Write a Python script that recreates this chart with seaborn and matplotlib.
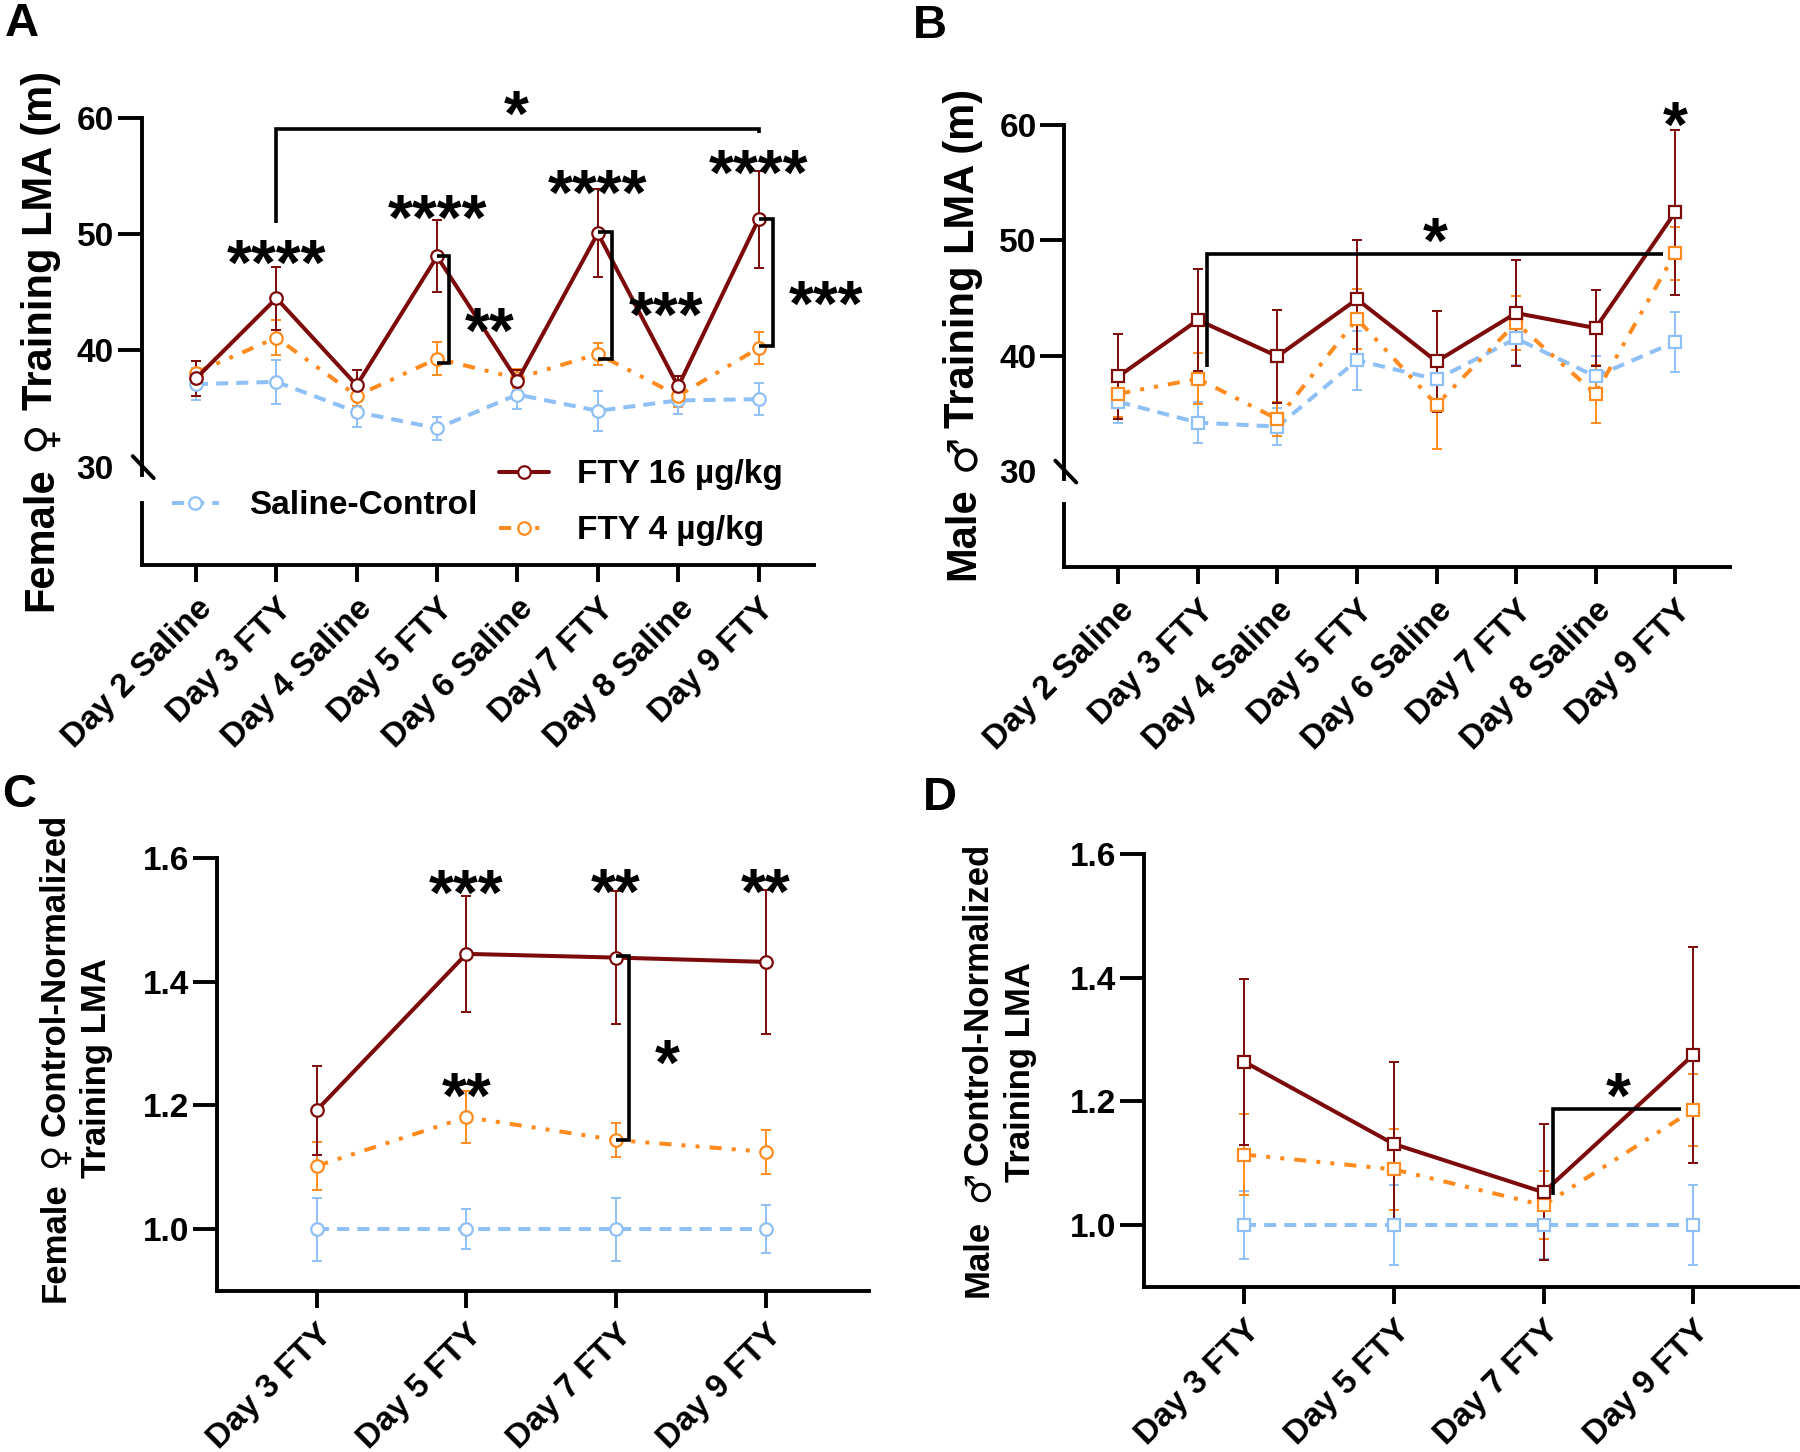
import numpy as np
import matplotlib
matplotlib.use("Agg")
import matplotlib.pyplot as plt
import matplotlib.transforms as mtransforms
from matplotlib.lines import Line2D
import seaborn as sns

# === Data (mean +/- SEM) ===
days_raw = ["Day 2 Saline", "Day 3 FTY", "Day 4 Saline", "Day 5 FTY",
            "Day 6 Saline", "Day 7 FTY", "Day 8 Saline", "Day 9 FTY"]
days_norm = ["Day 3 FTY", "Day 5 FTY", "Day 7 FTY", "Day 9 FTY"]

# A: female training LMA (m)
f_sal = [37.1, 37.3, 34.7, 33.3, 36.2, 34.8, 35.7, 35.8]
f_sal_err = [1.4, 1.9, 1.25, 1.0, 1.2, 1.7, 1.2, 1.4]
f_4 = [38.1, 41.1, 36.1, 39.3, 37.6, 39.7, 36.1, 40.2]
f_4_err = [1.0, 1.5, 0.9, 1.4, 0.8, 0.95, 1.0, 1.4]
f_16 = [37.6, 44.5, 37.0, 48.1, 37.4, 50.1, 36.9, 51.3]
f_16_err = [1.5, 2.7, 1.3, 3.1, 0.9, 3.8, 0.9, 4.2]

# B: male training LMA (m)
m_sal = [36.0, 34.2, 33.85, 39.6, 37.95, 41.5, 38.2, 41.2]
m_sal_err = [1.8, 1.8, 1.6, 2.55, 1.8, 2.3, 1.8, 2.6]
m_4 = [36.7, 38.0, 34.5, 43.2, 35.75, 42.85, 36.7, 48.9]
m_4_err = [2.0, 2.2, 1.5, 2.6, 3.85, 2.35, 2.5, 2.3]
m_16 = [38.2, 43.1, 39.95, 44.9, 39.5, 43.7, 42.4, 52.45]
m_16_err = [3.7, 4.4, 4.05, 5.1, 4.4, 4.6, 3.3, 7.15]

# C: female control-normalized
fc_sal = [1.0, 1.0, 1.0, 1.0]
fc_sal_err = [0.051, 0.032, 0.051, 0.039]
fc_4 = [1.102, 1.181, 1.144, 1.125]
fc_4_err = [0.039, 0.042, 0.028, 0.036]
fc_16 = [1.192, 1.445, 1.439, 1.432]
fc_16_err = [0.072, 0.094, 0.108, 0.117]

# D: male control-normalized
mc_sal = [1.0, 1.0, 1.0, 1.0]
mc_sal_err = [0.055, 0.064, 0.055, 0.064]
mc_4 = [1.114, 1.090, 1.032, 1.186]
mc_4_err = [0.065, 0.066, 0.055, 0.058]
mc_16 = [1.264, 1.131, 1.053, 1.275]
mc_16_err = [0.134, 0.132, 0.110, 0.174]

# === Style ===
sns.set_theme(style="ticks", rc={"axes.edgecolor": "black", "xtick.color": "black",
                                 "ytick.color": "black", "text.color": "black",
                                 "axes.labelcolor": "black"})
plt.rcParams['font.family'] = ['Liberation Sans', 'DejaVu Sans']
plt.rcParams['font.weight'] = 'bold'

RED = '#7d0a0a'
ORANGE = '#ff8b1f'
BLUE = '#8fc0f5'
SAL_LS = (0, (3, 2))
F4_LS = (0, (3, 2.5, 1, 2.5, 1, 2.5))
LW = 2.9
MS = 9

W, H = 1800, 1452
fig = plt.figure(figsize=(18, 14.52), dpi=100)


def add_ax(left, top, right, bottom):
    return fig.add_axes([left / W, 1 - bottom / H, (right - left) / W, (bottom - top) / H])


axA = add_ax(141.7, 118.3, 814, 565)
axB = add_ax(1064.3, 125.2, 1730, 567)
axC = add_ax(216.7, 858, 869.3, 1291)
axD = add_ax(1144.3, 853.7, 1798, 1287)


def draw_series(ax, y, err, color, ls, marker):
    x = np.arange(len(y))
    ax.errorbar(x, y, yerr=err, fmt='none', ecolor=color, elinewidth=1.4,
                capsize=3.5, capthick=1.4, zorder=2)
    sns.lineplot(x=x, y=y, ax=ax, color=color, linestyle=ls, linewidth=LW,
                 marker=marker, markersize=MS, markerfacecolor='white',
                 markeredgecolor=color, markeredgewidth=1.6,
                 errorbar=None, estimator=None, sort=False, zorder=3)


def style_axis(ax, labels):
    sns.despine(ax=ax)
    ax.grid(False)
    for s in ['left', 'bottom']:
        ax.spines[s].set_linewidth(2.8)
    ax.tick_params(axis='y', length=17, width=2.8, pad=3, labelsize=24)
    ax.tick_params(axis='x', length=12, width=2.8, pad=8, labelsize=24)
    ax.set_xticks(np.arange(len(labels)))
    ax.set_xticklabels(labels, rotation=45, ha='right', va='top',
                       rotation_mode='anchor')
    ax.set_xlabel('')
    ax.set_ylabel('')


def star(ax, x, yc, s, size=46):
    # place asterisks by their visual centre
    ax.annotate(s, (x, yc), xytext=(0, -0.56 * size), textcoords='offset points',
                ha='center', va='baseline', fontsize=size, fontweight='bold',
                annotation_clip=False)


def bracket(ax, xs, ys):
    ax.plot(xs, ys, color='black', lw=2.6, clip_on=False,
            solid_joinstyle='miter', solid_capstyle='butt', zorder=5)


def axis_break(ax, ylo, top_of_lower):
    trans = mtransforms.blended_transform_factory(ax.transAxes, ax.transData)
    ax.spines['left'].set_bounds(29.3, 60)
    w = ax.get_position().width * W
    ax.plot([-9 / w, 12 / w], [30.9, 29.0], color='black', lw=2.8,
            transform=trans, clip_on=False)
    ax.plot([0, 0], [ylo, top_of_lower], color='black', lw=2.8,
            transform=trans, clip_on=False, solid_capstyle='projecting')
    ax.yaxis.get_major_ticks()[0].tick1line.set_visible(False)


renderer = fig.canvas.get_renderer()


def vertical_label(x_base, y_center, parts, gaps, size):
    """Rotated label built from pieces so the sex symbol can come from DejaVu."""
    texts = []
    for s, fam in parts:
        t = fig.text(0, 0, s, rotation=90, rotation_mode='anchor', ha='left',
                     va='baseline', fontsize=size, family=fam,
                     transform=None)
        texts.append(t)
    lengths = [t.get_window_extent(renderer).height for t in texts]
    total = sum(lengths) + sum(gaps)
    y = (H - y_center) - total / 2
    for i, t in enumerate(texts):
        t.set_position((x_base, y))
        y += lengths[i] + (gaps[i] if i < len(gaps) else 0)


# === Panel A ===
draw_series(axA, f_sal, f_sal_err, BLUE, SAL_LS, 'o')
draw_series(axA, f_4, f_4_err, ORANGE, F4_LS, 'o')
draw_series(axA, f_16, f_16_err, RED, '-', 'o')
style_axis(axA, days_raw)
axA.set_xlim(-0.676, 7.69)
axA.set_ylim(21.52, 60)
axA.set_yticks([30, 40, 50, 60])
axis_break(axA, 21.52, 26.9)

bracket(axA, [1, 1, 7, 7], [50.95, 59.07, 59.07, 58.7])
star(axA, 3.98, 61.6, '*')
for xs, yc in zip([1, 3, 5, 7], [48.7, 52.6, 54.8, 56.5]):
    star(axA, xs, yc, '****')
bracket(axA, [3.0, 3.145, 3.145, 3.0], [48.1, 48.1, 38.95, 38.95])
bracket(axA, [5.0, 5.18, 5.18, 5.0], [50.2, 50.2, 39.3, 39.3])
bracket(axA, [7.0, 7.18, 7.18, 7.0], [51.3, 51.3, 40.35, 40.35])
star(axA, 3.66, 42.9, '**')
star(axA, 5.85, 44.25, '***')
star(axA, 7.84, 45.25, '***')

h_sal = Line2D([], [], color=BLUE, lw=LW, linestyle=SAL_LS, marker='o', ms=MS,
               mfc='white', mec=BLUE, mew=1.6)
h_4 = Line2D([], [], color=ORANGE, lw=LW, linestyle=F4_LS, marker='o', ms=MS,
             mfc='white', mec=ORANGE, mew=1.6)
h_16 = Line2D([], [], color=RED, lw=LW, linestyle='-', marker='o', ms=MS,
              mfc='white', mec=RED, mew=1.6)
leg1 = axA.legend(handles=[h_sal], labels=['Saline-Control'], loc='center left',
                  bbox_to_anchor=(172 / W, 1 - 506 / H), bbox_transform=fig.transFigure,
                  frameon=False, fontsize=24, handlelength=1.4, handletextpad=0.9,
                  borderpad=0, borderaxespad=0)
axA.add_artist(leg1)
axA.legend(handles=[h_16, h_4], labels=['FTY 16 µg/kg', 'FTY 4 µg/kg'], loc='center left',
           bbox_to_anchor=(499 / W, 1 - 503 / H), bbox_transform=fig.transFigure,
           frameon=False, fontsize=24, handlelength=1.5, handletextpad=0.85,
           labelspacing=0.75, borderpad=0, borderaxespad=0)

# === Panel B ===
draw_series(axB, m_sal, m_sal_err, BLUE, SAL_LS, 's')
draw_series(axB, m_4, m_4_err, ORANGE, F4_LS, 's')
draw_series(axB, m_16, m_16_err, RED, '-', 's')
style_axis(axB, days_raw)
axB.set_xlim(-0.68, 7.69)
axB.set_ylim(21.67, 60)
axB.set_yticks([30, 40, 50, 60])
axis_break(axB, 21.67, 27.1)
bracket(axB, [1.12, 1.12, 6.85], [39.0, 48.8, 48.8])
star(axB, 3.99, 51.2, '*')
star(axB, 7.0, 61.2, '*')

# === Panel C ===
draw_series(axC, fc_sal, fc_sal_err, BLUE, SAL_LS, 'o')
draw_series(axC, fc_4, fc_4_err, ORANGE, F4_LS, 'o')
draw_series(axC, fc_16, fc_16_err, RED, '-', 'o')
style_axis(axC, days_norm)
axC.set_xlim(-0.667, 3.69)
axC.set_ylim(0.90, 1.6)
axC.set_yticks([1.0, 1.2, 1.4, 1.6])
star(axC, 1, 1.566, '***')
star(axC, 2, 1.567, '**')
star(axC, 3, 1.567, '**')
star(axC, 1, 1.238, '**')
bracket(axC, [2.0, 2.086, 2.086, 2.0], [1.441, 1.441, 1.144, 1.144])
star(axC, 2.34, 1.292, '*')

# === Panel D ===
draw_series(axD, mc_sal, mc_sal_err, BLUE, SAL_LS, 's')
draw_series(axD, mc_4, mc_4_err, ORANGE, F4_LS, 's')
draw_series(axD, mc_16, mc_16_err, RED, '-', 's')
style_axis(axD, days_norm)
axD.set_xlim(-0.667, 3.70)
axD.set_ylim(0.90, 1.6)
axD.set_yticks([1.0, 1.2, 1.4, 1.6])
bracket(axD, [2.065, 2.065, 2.92], [1.048, 1.188, 1.188])
star(axD, 2.5, 1.231, '*')

# === Axis titles and panel letters ===
LIB = ['Liberation Sans', 'DejaVu Sans']
DJV = ['DejaVu Sans', 'Liberation Sans']
vertical_label(52, 341, [('Female', LIB), ('♀', DJV), ('Training LMA (m)', LIB)],
               [16, 10], 30)
vertical_label(974, 334, [('Male', LIB), ('♂', DJV), ('Training LMA (m)', LIB)],
               [16, 6], 30)
vertical_label(65, 1058, [('Female', LIB), ('♀', DJV), ('Control-Normalized', LIB)],
               [14, 6], 25)
vertical_label(106, 1068, [('Training LMA', LIB)], [], 25)
vertical_label(988, 1070, [('Male', LIB), ('♂', DJV), ('Control-Normalized', LIB)],
               [18, 6], 25)
vertical_label(1030, 1072, [('Training LMA', LIB)], [], 25)

for letter, x, y in [('A', 5, 2), ('B', 913, 4), ('C', 2, 773), ('D', 923, 776)]:
    fig.text(x / W, 1 - y / H, letter, fontsize=34, ha='left', va='top')

fig.savefig("out.png", dpi=100)
